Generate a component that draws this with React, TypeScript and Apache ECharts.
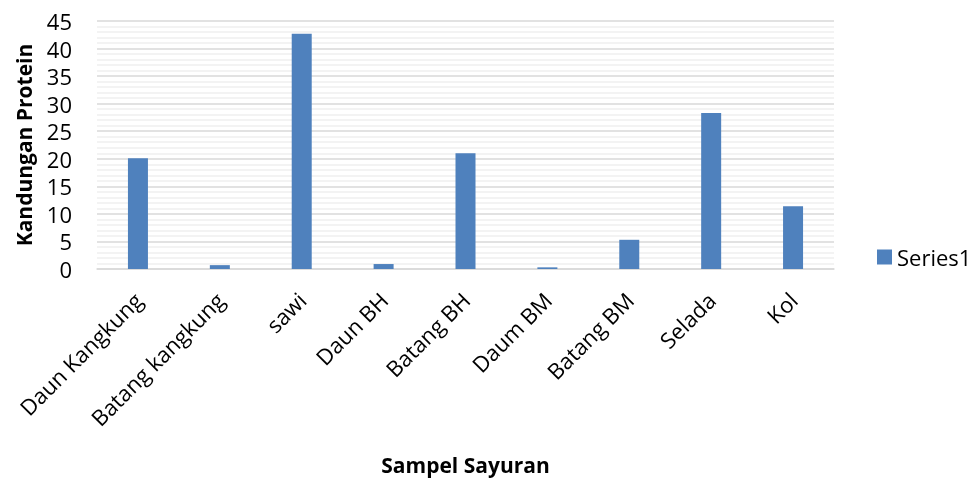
import React, { useEffect, useRef } from "react";
import * as echarts from "echarts";

const categories = ["Daun Kangkung", "Batang kangkung", "sawi", "Daun BH", "Batang BH", "Daum BM", "Batang BM", "Selada", "Kol"];
const series1 = [20.1, 0.7, 42.7, 0.9, 21.0, 0.3, 5.3, 28.3, 11.4];
const seriesName = "Series1";
const xTitle = "Sampel Sayuran";
const yTitle = "Kandungan Protein";

const FONT = "'Open Sans', sans-serif";

export default function App() {
  const ref = useRef<HTMLDivElement>(null);
  useEffect(() => {
    if (!ref.current) return;
    const chart = echarts.init(ref.current, null, { renderer: "svg" });
    chart.setOption({
      animation: false,
      textStyle: { fontFamily: FONT },
      grid: { left: 97, top: 21, width: 737, height: 248, containLabel: false },
      legend: {
        data: [seriesName],
        left: 872,
        top: 241,
        itemWidth: 15,
        itemHeight: 15,
        itemGap: 5,
        icon: "rect",
        textStyle: { fontSize: 22, color: "#000", fontFamily: FONT },
      },
      xAxis: {
        type: "category",
        data: categories,
        name: xTitle,
        nameLocation: "middle",
        nameGap: 185,
        nameTextStyle: { fontSize: 21, fontWeight: "bold", color: "#000", fontFamily: FONT },
        axisTick: { show: false },
        axisLine: { lineStyle: { color: "#d9d9d9", width: 1.5 } },
        axisLabel: { rotate: 45, interval: 0, fontSize: 22, color: "#000", margin: 27, fontFamily: FONT },
      },
      yAxis: {
        type: "value",
        min: 0,
        max: 45,
        interval: 5,
        name: yTitle,
        nameLocation: "middle",
        nameGap: 63,
        nameRotate: 90,
        nameTextStyle: { fontSize: 21, fontWeight: "bold", color: "#000", fontFamily: FONT },
        axisLine: { show: false },
        axisTick: { show: false },
        axisLabel: { fontSize: 22, color: "#000", margin: 25, fontFamily: FONT },
        splitLine: { lineStyle: { color: "#d9d9d9", width: 1.5 } },
        minorTick: { show: false, splitNumber: 5 },
        minorSplitLine: { show: true, lineStyle: { color: "#efefef", width: 1.5 } },
      },
      series: [
        {
          name: seriesName,
          type: "bar",
          data: series1,
          barWidth: 20,
          itemStyle: { color: "#4f81bd" },
        },
      ],
    });
    return () => chart.dispose();
  }, []);
  return <div ref={ref} style={{ position: "fixed", left: 0, top: 0, width: 978, height: 481 }} />;
}
